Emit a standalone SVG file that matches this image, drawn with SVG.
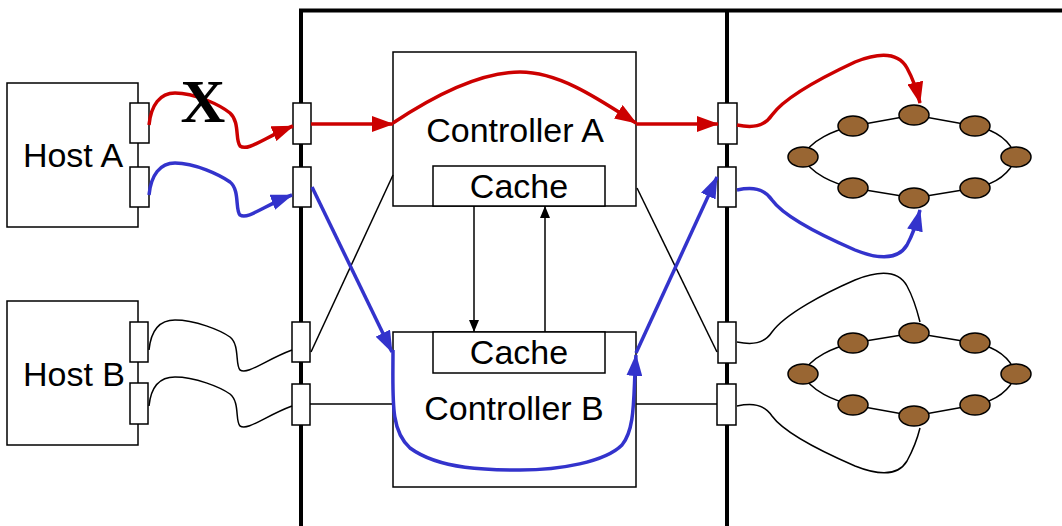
<svg xmlns="http://www.w3.org/2000/svg" width="1062" height="526" viewBox="0 0 1062 526">
<defs>
<style>
.box{fill:#fff;stroke:#000;stroke-width:1.5}
.port{fill:#fff;stroke:#000;stroke-width:1.5}
.frame{fill:none;stroke:#000;stroke-width:4}
.lbl{font-family:"Liberation Sans",Arial,sans-serif;font-size:34px;fill:#000;text-anchor:middle}
.red{fill:none;stroke:#cc0000;stroke-width:3.5}
.blue{fill:none;stroke:#3333cc;stroke-width:3.5}
.thin{fill:none;stroke:#000;stroke-width:1.5}
.disk{fill:#996633;stroke:#000;stroke-width:1.5}
</style>
<marker id="ar" markerUnits="userSpaceOnUse" markerWidth="22" markerHeight="16" refX="21" refY="8" orient="auto"><path d="M0,0 L22,8 L0,16 z" fill="#cc0000"/></marker>
<marker id="ab" markerUnits="userSpaceOnUse" markerWidth="22" markerHeight="16" refX="21" refY="8" orient="auto"><path d="M0,0 L22,8 L0,16 z" fill="#3333cc"/></marker>
<marker id="ak" markerUnits="userSpaceOnUse" markerWidth="12" markerHeight="10" refX="12" refY="5" orient="auto"><path d="M0,0 L12,5 L0,10 z" fill="#000"/></marker>
</defs>
<rect width="1062" height="526" fill="#fff"/>
<g id="frame">
<path class="frame" d="M301,526 L301,10.5 L1062,10.5"/>
<path class="frame" d="M727,10.5 L727,526"/>
</g>
<g id="host-a">
<rect class="box" x="7" y="83" width="131" height="144"/>
<text class="lbl" x="73" y="167">Host A</text>
<rect class="port" x="130" y="103" width="19" height="40"/>
<rect class="port" x="130" y="167" width="19" height="40"/>
</g>
<g id="host-b">
<rect class="box" x="7" y="301" width="131" height="144"/>
<text class="lbl" x="74" y="386">Host B</text>
<rect class="port" x="130" y="322" width="18" height="40"/>
<rect class="port" x="130" y="383" width="18" height="41"/>
</g>
<g id="controller-a">
<rect class="box" x="393" y="52" width="243" height="154"/>
<text class="lbl" x="515" y="142">Controller A</text>
<rect class="box" x="433" y="166" width="172" height="40"/>
<text class="lbl" x="519" y="198">Cache</text>
</g>
<g id="controller-b">
<rect class="box" x="393" y="332" width="243" height="155"/>
<rect class="box" x="433" y="332" width="172" height="41"/>
<text class="lbl" x="519" y="364">Cache</text>
<text class="lbl" x="514" y="420">Controller B</text>
</g>
<g id="ports-left">
<rect class="port" x="293" y="103" width="18" height="41"/>
<rect class="port" x="293" y="167" width="18" height="40"/>
<rect class="port" x="292" y="322" width="18" height="40"/>
<rect class="port" x="292" y="384" width="18" height="41"/>
</g>
<g id="ports-right">
<rect class="port" x="718" y="103" width="19" height="41"/>
<rect class="port" x="718" y="167" width="18" height="40"/>
<rect class="port" x="718" y="322" width="18" height="41"/>
<rect class="port" x="717" y="384" width="19" height="41"/>
</g>
<g id="ring-a">
<path class="thin" d="M803,157 C810,140 835,130 853,126 L914,115 L975,126 C995,130 1010,140 1016,157 C1010,174 995,184 975,188 L914,198 L853,188 C835,184 810,174 803,157 Z"/>
<ellipse class="disk" cx="803" cy="157" rx="15" ry="10"/>
<ellipse class="disk" cx="853" cy="126" rx="15" ry="10"/>
<ellipse class="disk" cx="914" cy="115" rx="15" ry="10"/>
<ellipse class="disk" cx="975" cy="126" rx="15" ry="10"/>
<ellipse class="disk" cx="1016" cy="157" rx="15" ry="10"/>
<ellipse class="disk" cx="975" cy="188" rx="15" ry="10"/>
<ellipse class="disk" cx="914" cy="198" rx="15" ry="10"/>
<ellipse class="disk" cx="853" cy="188" rx="15" ry="10"/>
</g>
<g id="ring-b">
<path class="thin" d="M803,374 C810,357 835,347 853,343 L914,333 L975,343 C995,347 1010,357 1016,374 C1010,391 995,401 975,405 L914,416 L853,405 C835,401 810,391 803,374 Z"/>
<ellipse class="disk" cx="803" cy="374" rx="15" ry="10"/>
<ellipse class="disk" cx="853" cy="343" rx="15" ry="10"/>
<ellipse class="disk" cx="914" cy="333" rx="15" ry="10"/>
<ellipse class="disk" cx="975" cy="343" rx="15" ry="10"/>
<ellipse class="disk" cx="1016" cy="374" rx="15" ry="10"/>
<ellipse class="disk" cx="975" cy="405" rx="15" ry="10"/>
<ellipse class="disk" cx="914" cy="416" rx="15" ry="10"/>
<ellipse class="disk" cx="853" cy="405" rx="15" ry="10"/>
</g>
<g id="connectors">
<path class="thin" d="M149,350 C151,330 160,320 175,320 C195,320 220,330 230,337 C240,345 235,365 240,370 C248,375 265,360 292,350"/>
<path class="thin" d="M149,406 C151,386 160,377 175,377 C195,377 220,387 230,394 C240,402 235,421 240,426 C248,431 265,416 292,406"/>
<path class="thin" d="M311,352 L393,175"/>
<path class="thin" d="M310,404 L393,404"/>
<path class="thin" d="M637,188 L717,352"/>
<path class="thin" d="M636,404 L717,404"/>
<path class="thin" marker-end="url(#ak)" d="M474,206 L474,332"/>
<path class="thin" marker-end="url(#ak)" d="M545,332 L545,206"/>
<path class="thin" d="M737,342 C752,345 764,344 772,332 C785,314 825,293 855,280 C880,270 898,270 907,286 C913,297 917,310 920,322"/>
<path class="thin" d="M737,406 C752,403 764,404 772,416 C785,434 825,453 855,466 C880,476 898,476 907,461 C913,450 917,440 920,428"/>
<path class="red" marker-end="url(#ar)" d="M149,125 C151,105 160,93 175,93 C195,93 220,105 230,113 C240,122 235,140 240,146 C248,152 265,137 293,126"/>
<path class="red" marker-end="url(#ar)" d="M311,124 L393,124"/>
<path class="red" marker-end="url(#ar)" d="M393,123 C450,85 490,72 520,72 C560,72 600,100 636,123"/>
<path class="red" marker-end="url(#ar)" d="M636,124 L718,124"/>
<path class="red" marker-end="url(#ar)" d="M737,125 C752,128 764,127 772,115 C785,97 825,76 855,62 C880,52 898,52 907,68 C913,79 917,90 920,103"/>
<path class="blue" marker-end="url(#ab)" d="M149,195 C151,175 160,163 175,163 C195,163 220,175 230,182 C240,190 235,210 240,215 C248,220 265,205 292,195"/>
<path class="blue" marker-end="url(#ab)" d="M312,187 L392,352"/>
<path class="blue" marker-end="url(#ab)" d="M393,350 C393,400 390,430 410,448 C440,470 490,470 520,470 C560,470 605,462 622,445 C636,428 633,395 636,355"/>
<path class="blue" marker-end="url(#ab)" d="M636,353 L717,177"/>
<path class="blue" marker-end="url(#ab)" d="M737,190 C752,187 764,188 772,200 C785,218 825,237 855,250 C880,260 898,260 907,245 C913,234 917,222 920,210"/>
</g>
<g id="failure-mark">
<text x="203" y="122" font-family="Liberation Serif,'Times New Roman',serif" font-weight="bold" font-size="62" text-anchor="middle" fill="#000">X</text>
</g>
</svg>
